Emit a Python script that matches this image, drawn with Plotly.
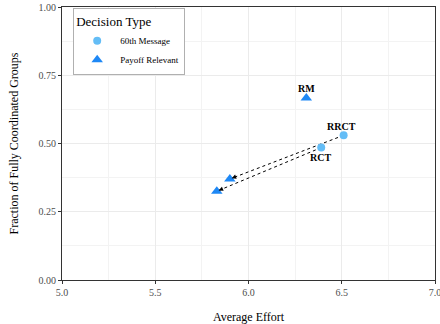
import plotly.graph_objects as go

# Data
msg_labels = ["RRCT", "RCT"]
msg_effort = [6.51, 6.39]
msg_frac = [0.53, 0.485]

pay_labels = ["RM", "RRCT", "RCT"]
pay_effort = [6.31, 5.90, 5.83]
pay_frac = [0.667, 0.37, 0.325]

x_ticks = [5.0, 5.5, 6.0, 6.5, 7.0]
y_ticks = [0.0, 0.25, 0.5, 0.75, 1.0]

FONT = "Liberation Serif"
C_MSG = "#64BDF6"
C_PAY = "#1E88F5"

fig = go.Figure()

# dashed arrow lines from 60th Message to Payoff Relevant for matching treatments
annotations = []
for lab, x0, y0 in zip(msg_labels, msg_effort, msg_frac):
    i = pay_labels.index(lab)
    x1, y1 = pay_effort[i], pay_frac[i]
    fig.add_trace(go.Scatter(x=[x0, x1], y=[y0, y1], mode="lines",
                             line=dict(color="black", width=1, dash="dot"),
                             showlegend=False, hoverinfo="skip"))
    annotations.append(dict(x=x1, y=y1, ax=x1 + 0.06 * (x0 - x1), ay=y1 + 0.06 * (y0 - y1),
                            xref="x", yref="y", axref="x", ayref="y", text="",
                            showarrow=True, arrowhead=2, arrowsize=0.9, arrowwidth=1,
                            arrowcolor="black", standoff=2))

fig.add_trace(go.Scatter(x=msg_effort, y=msg_frac, mode="markers", name="60th Message",
                         marker=dict(symbol="circle", size=8, color=C_MSG)))
fig.add_trace(go.Scatter(x=pay_effort, y=pay_frac, mode="markers", name="Payoff Relevant",
                         marker=dict(symbol="triangle-up", size=10, color=C_PAY)))

# text labels
label_pos = {"RM": (0, 9), "RRCT": (-2, 9), "RCT": (-1, -10)}
for lab, x, y in zip(pay_labels[:1], pay_effort[:1], pay_frac[:1]):
    dx, dy = label_pos[lab]
    annotations.append(dict(x=x, y=y, text="<b>%s</b>" % lab, showarrow=False,
                            xshift=dx, yshift=dy, font=dict(family=FONT, size=10, color="black")))
for lab, x, y in zip(msg_labels, msg_effort, msg_frac):
    dx, dy = label_pos[lab]
    annotations.append(dict(x=x, y=y, text="<b>%s</b>" % lab, showarrow=False,
                            xshift=dx, yshift=dy, font=dict(family=FONT, size=10, color="black")))

fig.update_layout(
    width=440, height=324,
    margin=dict(l=62, r=5, t=7, b=44, autoexpand=False),
    paper_bgcolor="white", plot_bgcolor="white",
    font=dict(family=FONT, color="black"),
    annotations=annotations,
    legend=dict(x=0.03, y=0.995, xanchor="left", yanchor="top",
                bgcolor="white", bordercolor="#B0B0B0", borderwidth=1,
                title=dict(text="Decision Type", font=dict(family=FONT, size=13)),
                font=dict(family=FONT, size=9), tracegroupgap=0, itemwidth=36),
    xaxis=dict(range=[5, 7], tickvals=x_ticks, ticktext=["%.1f" % v for v in x_ticks],
               automargin=False, ticklabeloverflow="allow",
               showline=True, linecolor="#333333", linewidth=1, mirror=True,
               ticks="outside", ticklen=3, tickcolor="#333333",
               tickfont=dict(family=FONT, size=10, color="#4D4D4D"),
               showgrid=True, gridcolor="#EBEBEB", gridwidth=1,
               minor=dict(dtick=0.25, showgrid=True, gridcolor="#F3F3F3", gridwidth=0.6),
               zeroline=False,
               title=dict(text="Average Effort", font=dict(family=FONT, size=12), standoff=18)),
    yaxis=dict(range=[0, 1], tickvals=y_ticks, ticktext=["%.2f" % v for v in y_ticks],
               automargin=False, ticklabeloverflow="allow",
               showline=True, linecolor="#333333", linewidth=1, mirror=True,
               ticks="outside", ticklen=3, tickcolor="#333333",
               tickfont=dict(family=FONT, size=10, color="#4D4D4D"),
               showgrid=True, gridcolor="#EBEBEB", gridwidth=1,
               minor=dict(dtick=0.125, showgrid=True, gridcolor="#F3F3F3", gridwidth=0.6),
               zeroline=False,
               title=dict(text="Fraction of Fully Coordinated Groups", font=dict(family=FONT, size=12), standoff=17)),
)

fig.write_html("out.html", config={"displayModeBar": False},
               post_script="document.body.style.margin='0';")
